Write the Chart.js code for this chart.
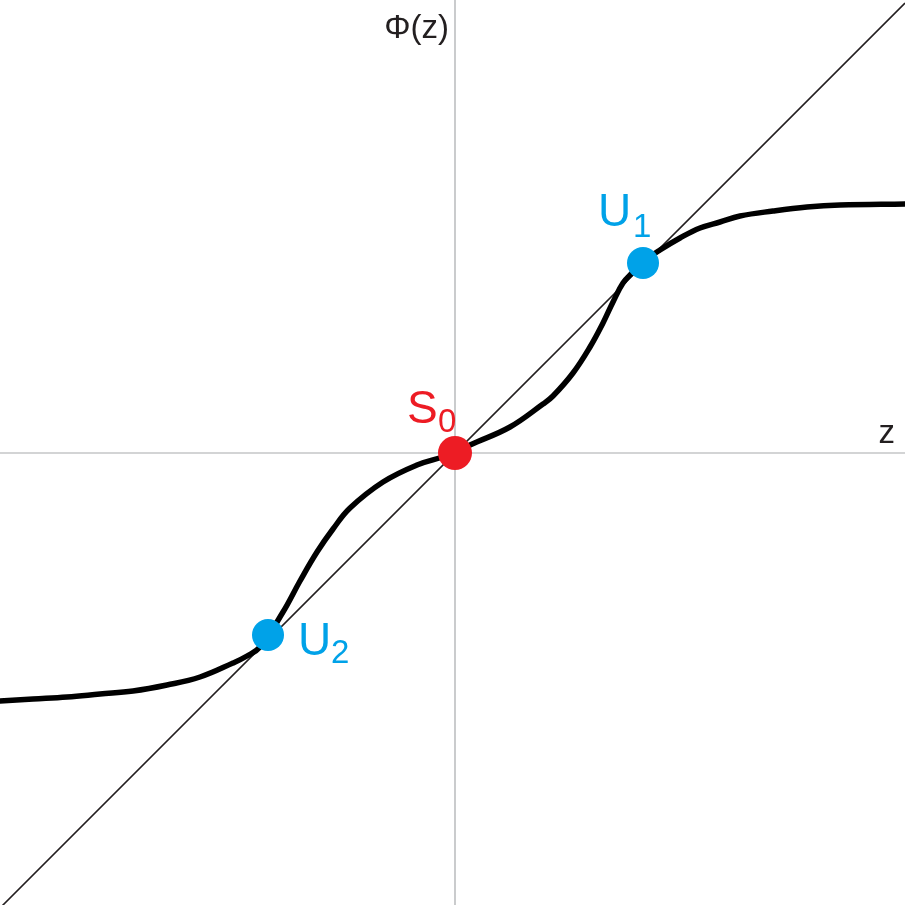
<!DOCTYPE html>
<html>
<head>
<meta charset="utf-8">
<script src="https://cdn.jsdelivr.net/npm/chart.js@4/dist/chart.umd.min.js"></script>
<style>
html,body{margin:0;padding:0;background:#fff;}
#wrap{width:905px;height:905px;}
</style>
</head>
<body>
<div id="wrap"><canvas id="c" width="905" height="905"></canvas></div>
<script>
// Axis ranges
const xRange = [-4.55, 4.50];
const yRange = [-4.52, 4.53];

// Φ(z) curve
const curveZ   = [-4.55,-4.22,-3.88,-3.55,-3.22,-2.88,-2.55,-2.22,-2.08,-1.95,-1.72,-1.55,-1.38,-1.22,-1.05,-0.72,-0.38,-0.12,0,0.15,0.55,0.88,0.98,1.18,1.35,1.48,1.58,1.68,1.78,1.88,2.05,2.25,2.45,2.65,2.85,3.18,3.52,3.85,4.50];
const curvePhi = [-2.48,-2.46,-2.44,-2.41,-2.38,-2.32,-2.24,-2.10,-2.03,-1.94,-1.59,-1.28,-0.99,-0.76,-0.55,-0.29,-0.12,-0.04,0,0.08,0.26,0.49,0.57,0.80,1.06,1.30,1.51,1.70,1.81,1.91,2.03,2.15,2.25,2.31,2.37,2.42,2.46,2.48,2.49];

// Identity line z
const diagZ = [-4.55, 4.50];

// Fixed points
const pointNames = ["S", "U", "U"];
const pointSubs  = ["0", "1", "2"];
const pointZ     = [0, 1.88, -1.87];
const pointPhi   = [0, 1.90, -1.82];

// Axis labels
const yAxisLabel = "Φ(z)";
const xAxisLabel = "z";

const curveData = curveZ.map((z,i)=>({x:z,y:curvePhi[i]}));
const diagData = diagZ.map(z=>({x:z,y:z}));
const hAxis = xRange.map(x=>({x:x,y:0}));
const vAxis = yRange.map(y=>({x:0,y:y}));

const RED = "#ED1C24", BLUE = "#00A2E8";
const pointColors = [RED, BLUE, BLUE];
const pointRadii = [17, 16, 16];

const labelPlugin = {
  id: "labels",
  afterDatasetsDraw(chart){
    const ctx = chart.ctx;
    const xs = chart.scales.x, ys = chart.scales.y;
    ctx.save();
    ctx.textBaseline = "alphabetic";
    ctx.fillStyle = "#231F20";
    ctx.font = "33px 'Liberation Sans', Arial, sans-serif";
    ctx.textAlign = "right";
    ctx.fillText(yAxisLabel, xs.getPixelForValue(0) - 6, 38);
    ctx.fillText(xAxisLabel, chart.chartArea.right - 10, ys.getPixelForValue(0) - 10);
    ctx.textAlign = "left";
    const offs = [[-48,-30,-17,-21],[-45,-37,-10,-26],[30,20,63,28]];
    for(let i=0;i<pointNames.length;i++){
      const px = xs.getPixelForValue(pointZ[i]), py = ys.getPixelForValue(pointPhi[i]);
      const o = offs[i];
      ctx.fillStyle = pointColors[i];
      ctx.font = "46px 'Liberation Sans', Arial, sans-serif";
      ctx.fillText(pointNames[i], px + o[0], py + o[1]);
      ctx.font = "33px 'Liberation Sans', Arial, sans-serif";
      ctx.fillText(pointSubs[i], px + o[2], py + o[3]);
    }
    ctx.restore();
  }
};

new Chart(document.getElementById("c"), {
  type: "scatter",
  data: {
    datasets: [
      {data: pointZ.map((z,i)=>({x:z,y:pointPhi[i]})), pointRadius: pointRadii, pointBackgroundColor: pointColors, pointBorderWidth:0, showLine:false, order:0},
      {data: curveData, showLine:true, borderColor:"#000", borderWidth:5.5, pointRadius:0, tension:0.4, borderCapStyle:"round", borderJoinStyle:"round", order:1},
      {data: diagData, showLine:true, borderColor:"#231F20", borderWidth:1.6, pointRadius:0, order:2},
      {data: hAxis, showLine:true, borderColor:"#A7A9AC", borderWidth:1.2, pointRadius:0, order:3},
      {data: vAxis, showLine:true, borderColor:"#A7A9AC", borderWidth:1.2, pointRadius:0, order:3}
    ]
  },
  options: {
    responsive:false,
    animation:false,
    events:[],
    layout:{padding:0, autoPadding:false},
    plugins:{legend:{display:false}, tooltip:{enabled:false}},
    scales:{
      x:{type:"linear", min:xRange[0], max:xRange[1], display:false},
      y:{type:"linear", min:yRange[0], max:yRange[1], display:false}
    }
  },
  plugins:[labelPlugin]
});
</script>
</body>
</html>
